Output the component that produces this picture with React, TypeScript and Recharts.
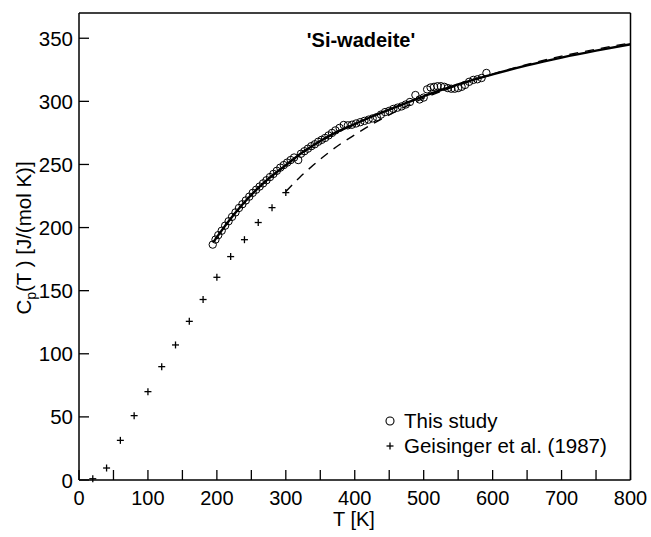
import { ComposedChart, Line, Scatter, XAxis, YAxis, ReferenceLine } from "recharts";

// "This study" measurements
const studyT = [
  194, 198, 202, 207, 212, 217, 222, 227, 232, 237, 242, 247, 252, 257, 262, 267, 272, 277, 282, 287,
  292, 297, 302, 307, 312, 318, 322, 327, 332, 337, 342, 347, 352, 357, 362, 367, 372, 378, 384, 390,
  396, 402, 408, 414, 420, 426, 432, 438, 444, 450, 456, 462, 468, 474, 480, 488, 494, 500, 505, 510,
  515, 520, 525, 530, 535, 540, 545, 550, 555, 560, 566, 572, 578, 584, 591,
];
const studyCp = [
  186.5, 190.5, 194, 197.5, 201.5, 205, 208.5, 212, 215.5, 218.5, 221.5, 224.5, 227.5, 230, 232.5, 235,
  237.5, 240, 242.5, 245, 247.5, 249.5, 251.5, 253.5, 255.5, 253.5, 258.5, 260.5, 262.5, 264.5, 266,
  268, 269.5, 271, 273, 275, 277, 279, 281.3, 281, 281.5, 282.5, 283.5, 284.5, 285.5, 286.5, 287.5,
  289.5, 291.5, 292.5, 294, 295, 296, 297.5, 299.5, 305, 301.5, 303, 309.5, 311, 311.5, 312, 312, 311.5,
  310.5, 310, 310, 310.5, 311.5, 313, 315.5, 317, 317.5, 318.5, 322.5,
];

// Geisinger et al. (1987)
const geisT = [20, 40, 60, 80, 100, 120, 140, 160, 180, 200, 220, 240, 260, 280, 300];
const geisCp = [1, 9.5, 31.4, 51, 70, 89.8, 107, 125.7, 143, 160.6, 177, 190.4, 204, 215.8, 227.7];

// fitted curve (solid)
const fitT = [195, 200, 225, 250, 275, 300, 325, 350, 375, 400, 425, 450, 475, 500, 525, 550, 575, 600, 650, 700, 750, 800];
const fitCp = [188.5, 192.4, 210.5, 226, 238.8, 249.5, 259.8, 268.6, 276, 282, 288, 293.4, 298.8, 304, 309, 313.4, 317.6, 321.4, 328.5, 334.7, 340.2, 345.2];

// second curve (dashed)
const dashT = [300, 320, 340, 360, 380, 400, 425, 450, 475, 500, 525, 550, 575, 600, 650, 700, 750, 800];
const dashCp = [228.5, 239.7, 249.5, 258.5, 266.5, 273.5, 281.8, 289.3, 296.2, 302.5, 307.9, 312.8, 317.3, 321.6, 329.2, 335.8, 341.3, 346.3];

const xTicks = [0, 50, 100, 150, 200, 250, 300, 350, 400, 450, 500, 550, 600, 650, 700, 750, 800];
const yTicks = [0, 50, 100, 150, 200, 250, 300, 350];

const FONT = "'Liberation Sans', Arial, Helvetica, sans-serif";
const FS = 20.5;

const toPts = (ts: number[], cs: number[]) => ts.map((T, i) => ({ T, Cp: cs[i] }));
const studyData = toPts(studyT, studyCp);
const geisData = toPts(geisT, geisCp);
const fitData = toPts(fitT, fitCp);
const dashData = toPts(dashT, dashCp);

function XTick(props: any) {
  const { x, y, payload } = props;
  const v = payload.value;
  return (
    <g>
      <line x1={x} y1={y} x2={x} y2={y - 10} stroke="#000" strokeWidth={1.3} />
      {v % 100 === 0 && (
        <text x={x} y={y + 24.5} textAnchor="middle" fontSize={20} fontFamily={FONT} fill="#000">
          {v}
        </text>
      )}
    </g>
  );
}

function YTick(props: any) {
  const { x, y, payload } = props;
  return (
    <g>
      <line x1={x} y1={y} x2={x + 10} y2={y} stroke="#000" strokeWidth={1.3} />
      <text x={x - 6} y={y + 7.5} textAnchor="end" fontSize={FS} fontFamily={FONT} fill="#000">
        {payload.value}
      </text>
    </g>
  );
}

const circle = (p: any) => (
  <circle cx={p.cx} cy={p.cy} r={3.7} fill="none" stroke="#000" strokeWidth={1} />
);
const plus = (p: any) => (
  <g stroke="#000" strokeWidth={1.3}>
    <line x1={p.cx - 3.5} y1={p.cy} x2={p.cx + 3.5} y2={p.cy} />
    <line x1={p.cx} y1={p.cy - 3.5} x2={p.cx} y2={p.cy + 3.5} />
  </g>
);

export default function App() {
  return (
    <div style={{ position: "absolute", left: 0, top: 0, width: 651, height: 537, background: "#fff" }}>
      <ComposedChart width={651} height={537} margin={{ top: 13, right: 20.5, bottom: 0, left: 0 }}>
        <XAxis
          type="number"
          dataKey="T"
          domain={[0, 800]}
          ticks={xTicks}
          interval={0}
          height={57}
          tickSize={0}
          tickMargin={0}
          tickLine={false}
          tick={<XTick />}
          axisLine={{ stroke: "#000", strokeWidth: 1.5 }}
          label={{
            content: () => (
              <text x={354} y={526} textAnchor="middle" fontSize={20} fontFamily={FONT} fill="#000">
                T [K]
              </text>
            ),
          }}
        />
        <YAxis
          type="number"
          dataKey="Cp"
          domain={[0, 370]}
          ticks={yTicks}
          interval={0}
          width={79}
          tickSize={0}
          tickMargin={0}
          tickLine={false}
          tick={<YTick />}
          axisLine={{ stroke: "#000", strokeWidth: 1.5 }}
          label={{
            content: () => (
              <text
                x={31}
                y={238}
                transform="rotate(-90, 31, 238)"
                textAnchor="middle"
                fontSize={FS}
                fontFamily={FONT}
                fill="#000"
              >
                C<tspan fontSize={14} dy={5}>p</tspan>
                <tspan dy={-5}>(T ) [J/(mol K)]</tspan>
              </text>
            ),
          }}
        />
        <ReferenceLine y={370} stroke="#000" strokeWidth={1.5} />
        <ReferenceLine x={800} stroke="#000" strokeWidth={1.5} />
        <Scatter data={studyData} shape={circle} isAnimationActive={false} />
        <Scatter data={geisData} shape={plus} isAnimationActive={false} />
        <Line
          data={dashData}
          dataKey="Cp"
          type="monotone"
          stroke="#000"
          strokeWidth={1.4}
          strokeDasharray="9 7"
          dot={false}
          isAnimationActive={false}
        />
        <Line
          data={fitData}
          dataKey="Cp"
          type="monotone"
          stroke="#000"
          strokeWidth={2.4}
          dot={false}
          isAnimationActive={false}
        />
      </ComposedChart>
      <svg
        width={651}
        height={537}
        style={{ position: "absolute", left: 0, top: 0, pointerEvents: "none" }}
        fontFamily={FONT}
      >
        <text x={361} y={47} textAnchor="middle" fontSize={20} fontWeight="bold" fill="#000">
          'Si-wadeite'
        </text>
        <circle cx={390} cy={421} r={4} fill="none" stroke="#000" strokeWidth={1.1} />
        <text x={404} y={428} fontSize={FS} fill="#000">This study</text>
        <g stroke="#000" strokeWidth={1.3}>
          <line x1={386.5} y1={446} x2={393.5} y2={446} />
          <line x1={390} y1={442.5} x2={390} y2={449.5} />
        </g>
        <text x={404} y={453} fontSize={FS} fill="#000">Geisinger et al. (1987)</text>
      </svg>
    </div>
  );
}
